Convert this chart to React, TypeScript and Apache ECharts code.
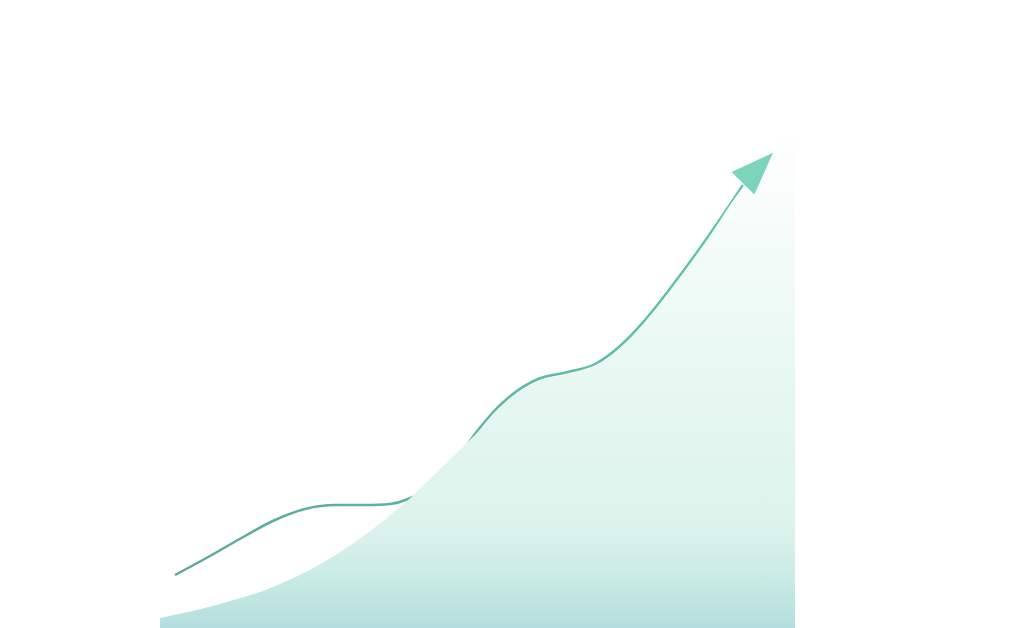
import React, { useEffect, useRef } from 'react';
import * as echarts from 'echarts';

// pixel-like coordinates: x across, y down (y axis is inverted)
const trendLine: [number, number][] = [
  [175, 575], [210, 556], [245, 536], [275, 520], [305, 509], [335, 505],
  [365, 505], [390, 504], [408, 499], [440, 482], [478, 430], [508, 398],
  [538, 379], [568, 372], [595, 364], [620, 346], [645, 320], [672, 286],
  [705, 241], [743, 185],
];

const areaTop: [number, number][] = [
  [160, 618], [220, 604], [280, 584], [340, 552], [400, 507], [440, 469],
  [478, 432], [508, 400], [538, 381], [568, 374], [595, 366], [620, 348],
  [645, 322], [672, 288], [705, 243], [743, 187], [795, 124],
];

const areaRight: [number, number][] = [[795, 124], [795, 628]];

const arrowHead: [number, number][] = [[758, 168]];

export default function App() {
  const elRef = useRef<HTMLDivElement | null>(null);

  useEffect(() => {
    if (!elRef.current) return;
    const chart = echarts.init(elRef.current, undefined, { renderer: 'svg' });

    const opt: echarts.EChartsOption = {
      animation: false,
      backgroundColor: '#ffffff',
      grid: { left: 0, right: 0, top: 0, bottom: 0 },
      xAxis: { type: 'value', min: 0, max: 1024, show: false },
      yAxis: { type: 'value', min: 0, max: 628, inverse: true, show: false },
      series: [
        {
          name: 'trend',
          type: 'line',
          z: 1,
          data: trendLine,
          smooth: 0.4,
          showSymbol: false,
          lineStyle: {
            width: 2.5,
            color: new echarts.graphic.LinearGradient(0, 0, 1, 0, [
              { offset: 0, color: '#5ea79f' },
              { offset: 0.5, color: '#5db5a3' },
              { offset: 1, color: '#5cc6a8' },
            ]),
          },
        },
        {
          name: 'area',
          type: 'line',
          z: 2,
          data: areaTop,
          smooth: 0.4,
          showSymbol: false,
          lineStyle: { width: 0, opacity: 0 },
          areaStyle: {
            origin: 628,
            opacity: 1,
            color: new echarts.graphic.LinearGradient(0, 0, 0, 1, [
              { offset: 0, color: '#ffffff' },
              { offset: 0.3, color: '#f1fbf7' },
              { offset: 0.55, color: '#e5f7f0' },
              { offset: 0.8, color: '#dcf3ec' },
              { offset: 0.9, color: '#c9ebe5' },
              { offset: 1, color: '#b3dedd' },
            ]),
          },
        },
        {
          name: 'edge',
          type: 'line',
          z: 2,
          data: areaRight,
          showSymbol: false,
          lineStyle: { width: 0, opacity: 0 },
        },
        {
          name: 'arrow',
          type: 'scatter',
          z: 3,
          data: arrowHead,
          symbol: 'triangle',
          symbolSize: [32, 43],
          symbolRotate: -44.5,
          itemStyle: { color: '#5dc9a9' },
        },
      ],
    };

    chart.setOption(opt, true);
    return () => chart.dispose();
  }, []);

  return <div ref={elRef} style={{ position: 'fixed', left: 0, top: 0, width: 1024, height: 628 }} />;
}
